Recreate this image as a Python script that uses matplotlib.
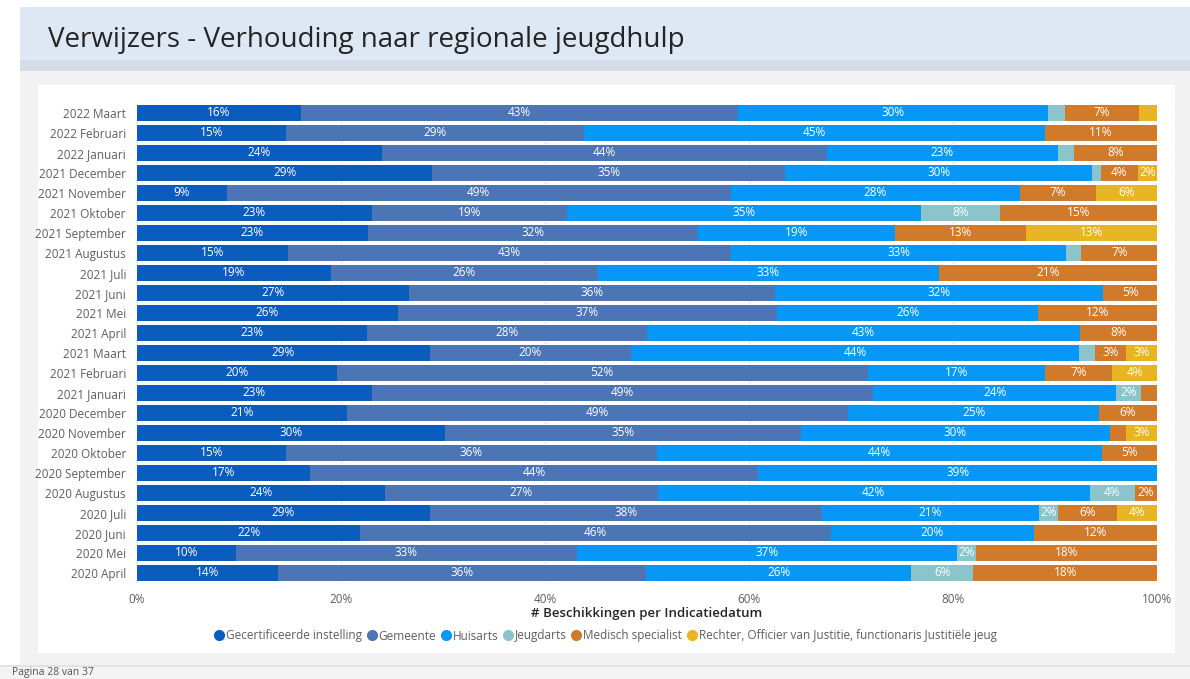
import matplotlib

matplotlib.use("Agg")
import matplotlib.pyplot as plt
from matplotlib.lines import Line2D
from matplotlib.patches import Rectangle

plt.rcParams["font.family"] = ["Open Sans", "DejaVu Sans"]

W, H = 1190, 679

MONTHS = ["2022 Maart", "2022 Februari", "2022 Januari", "2021 December",
          "2021 November", "2021 Oktober", "2021 September", "2021 Augustus",
          "2021 Juli", "2021 Juni", "2021 Mei", "2021 April", "2021 Maart",
          "2021 Februari", "2021 Januari", "2020 December", "2020 November",
          "2020 Oktober", "2020 September", "2020 Augustus", "2020 Juli",
          "2020 Juni", "2020 Mei", "2020 April"]

SERIES = ["Gecertificeerde instelling", "Gemeente", "Huisarts", "Jeugdarts",
          "Medisch specialist",
          "Rechter, Officier van Justitie, functionaris Justitiële jeug"]

# share (%) per month, same order as MONTHS
gecertificeerd = [16.0, 14.6, 24.0, 29.0, 8.8, 23.0, 22.6, 14.8, 19.0, 26.7, 25.6, 22.6,
                  28.7, 19.6, 23.0, 20.6, 30.2, 14.6, 17.0, 24.3, 28.7, 21.9, 9.7, 13.8]
gemeente = [42.8, 29.2, 43.6, 34.7, 49.4, 19.2, 32.4, 43.4, 26.2, 35.8, 37.3, 27.6,
            19.7, 52.2, 49.2, 49.2, 34.9, 36.3, 43.9, 26.7, 38.4, 46.1, 33.4, 36.1]
huisarts = [30.3, 45.2, 22.7, 30.1, 28.4, 34.7, 19.3, 32.8, 33.4, 32.2, 25.6, 42.6,
            44.0, 17.4, 23.8, 24.6, 30.3, 43.6, 39.1, 42.3, 21.2, 19.9, 37.3, 26.0]
jeugdarts = [1.7, 0, 1.6, 0.9, 0, 7.7, 0, 1.5, 0, 0, 0, 0,
             1.5, 0, 2.4, 0, 0, 0, 0, 4.4, 1.9, 0, 1.9, 6.1]
medisch = [7.2, 11.0, 8.1, 3.6, 7.4, 15.4, 12.9, 7.4, 21.4, 5.3, 11.7, 7.6,
           3.1, 6.6, 1.6, 5.7, 1.6, 5.4, 0, 2.2, 5.8, 12.1, 17.7, 18.0]
rechter = [1.8, 0, 0, 1.9, 6.0, 0, 12.8, 0, 0, 0, 0, 0,
           3.0, 4.4, 0, 0, 3.0, 0, 0, 0, 3.9, 0, 0, 0]

COLORS = ["#0b5cbd", "#4b75b5", "#0598f6", "#8bc4cb", "#d07a2c", "#e7b422"]


def px(x0, y0, x1, y1):
    """pixel box (top-left origin) -> figure-fraction rect"""
    return [x0 / W, 1 - y1 / H, (x1 - x0) / W, (y1 - y0) / H]


def main() -> None:
    fig = plt.figure(figsize=(W / 100, H / 100), dpi=100)
    fig.patch.set_facecolor("white")

    # page background pieces
    for (x0, y0, x1, y1), col in [
        ((20, 7, W, 60), "#dde8f4"),
        ((20, 60, W, 71), "#d4dce7"),
        ((20, 71, W, 665), "#f2f2f2"),
        ((0, 665, W, 667), "#e2e2e2"),
        ((0, 667, W, H), "#f3f3f3"),
        ((38, 85, 1175, 653), "white"),
    ]:
        r = px(x0, y0, x1, y1)
        fig.patches.append(Rectangle((r[0], r[1]), r[2], r[3], transform=fig.transFigure,
                                     facecolor=col, edgecolor="none", zorder=-5))

    fig.text(48 / W, 1 - 40 / H, "Verwijzers - Verhouding naar regionale jeugdhulp",
             fontsize=20, color="#252423", va="center", ha="left")
    fig.text(12 / W, 1 - 672 / H, "Pagina 28 van 37", fontsize=7.5, color="#555555",
             va="center", ha="left")

    ax = fig.add_axes(px(137, 103, 1157, 583))
    ax.set_zorder(2)
    ax.patch.set_alpha(0)
    data = [gecertificeerd, gemeente, huisarts, jeugdarts, medisch, rechter]
    y = list(range(len(MONTHS)))
    totals = [sum(col[i] for col in data) for i in y]
    left = [0.0] * len(MONTHS)
    for name, vals, col in zip(SERIES, data, COLORS):
        widths = [v / t * 100 for v, t in zip(vals, totals)]
        ax.barh(y, widths, left=left, height=0.8, color=col, label=name, zorder=2)
        for i, (v, w, l) in enumerate(zip(vals, widths, left)):
            if v >= 1.85:
                ax.text(l + w / 2, i, f"{v:.0f}%", ha="center", va="center",
                        color="white", fontsize=8.5, zorder=3)
        left = [l + w for l, w in zip(left, widths)]

    ax.set_ylim(len(MONTHS) - 0.5, -0.5)
    ax.set_xlim(0, 100)
    ax.set_yticks(y)
    ax.set_yticklabels(MONTHS, fontsize=8.5, color="#605e5c")
    ax.set_xticks([0, 20, 40, 60, 80, 100])
    ax.set_xticklabels(["0%", "20%", "40%", "60%", "80%", "100%"], fontsize=8.5,
                       color="#605e5c")
    ax.tick_params(length=0, pad=8)
    ax.tick_params(axis="x", pad=7)
    ax.grid(axis="x", color="#c8c8c8", linestyle=(0, (1, 2)), lw=0.8, zorder=0)
    for s in ax.spines.values():
        s.set_visible(False)
    ax.set_xlabel("# Beschikkingen per Indicatiedatum", fontsize=9.5, color="#252423",
                  fontweight="semibold", labelpad=1)

    handles = [Line2D([], [], marker="o", ls="none", markersize=7, color=c) for c in COLORS]
    fig.legend(handles, SERIES, loc="center", bbox_to_anchor=(605 / W, 1 - 636 / H),
               ncol=6, frameon=False, fontsize=8.5, handletextpad=0.1, columnspacing=0.3,
               labelcolor="#605e5c", handlelength=1.0)

    fig.savefig("out.png", dpi=100)


if __name__ == "__main__":
    main()
